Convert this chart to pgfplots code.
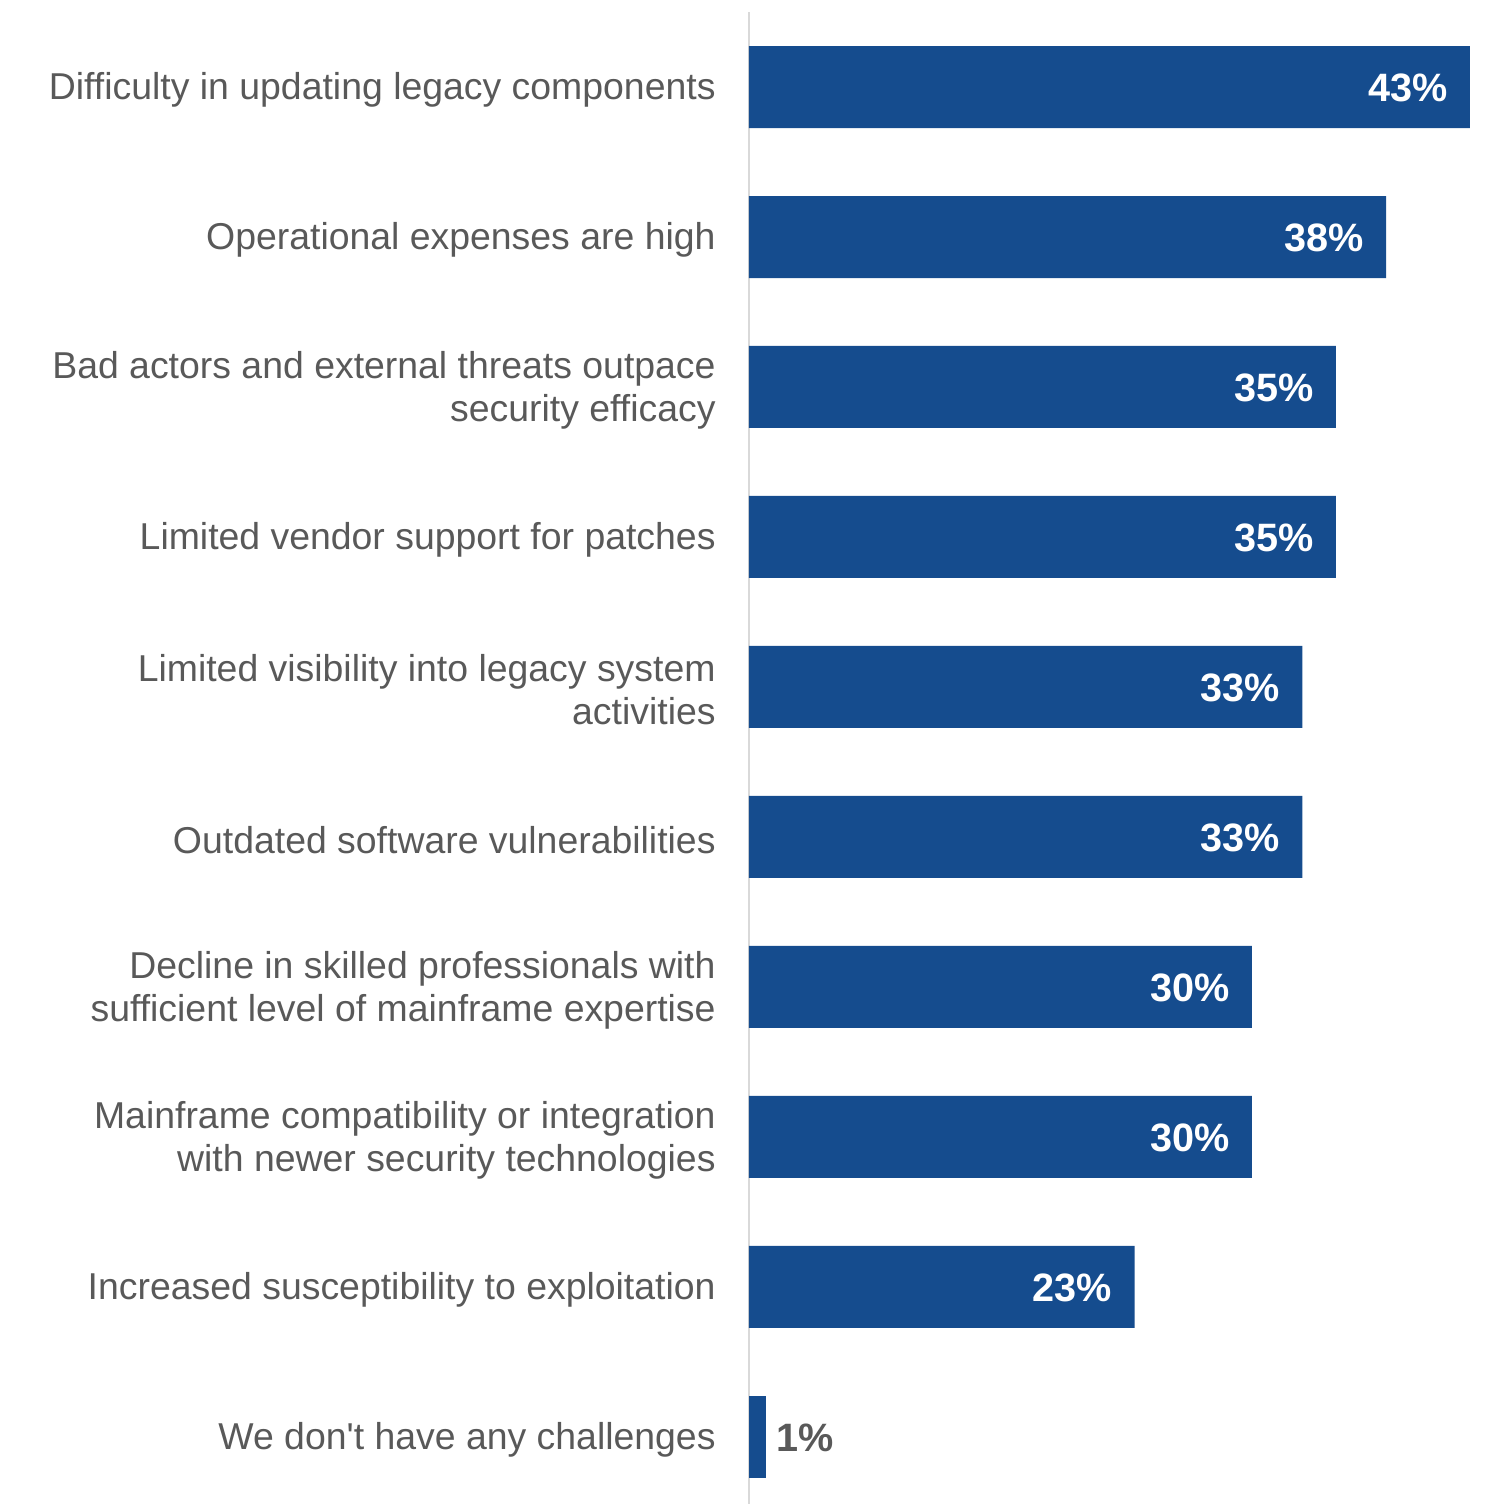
\documentclass[border=0pt]{standalone}
\usepackage{pgfplots}
\pgfplotsset{compat=1.18}
\usepackage{fontspec}
\setmainfont{Liberation Sans}
\definecolor{barblue}{RGB}{21,76,142}
\definecolor{labelgray}{RGB}{89,89,89}
\definecolor{axisgray}{RGB}{217,217,217}
\begin{document}
\begin{tikzpicture}
\begin{axis}[
  scale only axis,
  width=378.5pt, height=746pt,
  xmin=0, xmax=45.15,
  ymin=-0.5, ymax=9.447,
  y dir=reverse,
  axis x line=none,
  axis y line=left,
  y axis line style={-, draw=axisgray, line width=1pt},
  major tick length=0pt,
  ytick={0,...,9},
  yticklabels={
    {Difficulty in updating legacy components},
    {Operational expenses are high},
    {Bad actors and external threats outpace\\security efficacy},
    {Limited vendor support for patches},
    {Limited visibility into legacy system\\activities},
    {Outdated software vulnerabilities},
    {Decline in skilled professionals with\\sufficient level of mainframe expertise},
    {Mainframe compatibility or integration\\with newer security technologies},
    {Increased susceptibility to exploitation},
    {We don\textquotesingle t have any challenges}},
  yticklabel style={align=right, text=labelgray, inner sep=0pt, xshift=-16.5pt, yshift=-1.5pt,
    font=\fontsize{18.7}{21.5}\selectfont},
  clip=false,
]
\addplot[xbar, bar width=41pt, bar shift=0pt, fill=barblue, draw=none,
  point meta=x,
  nodes near coords={\pgfmathprintnumber[assume math mode=true]{\pgfplotspointmeta}\%},
  nodes near coords style={anchor=east, xshift=-11pt, yshift=-0.5pt, text=white, inner sep=0pt,
    font=\fontsize{19.8}{22}\selectfont\bfseries}]
  coordinates {(43,0) (38,1) (35,2) (35,3) (33,4) (33,5) (30,6) (30,7) (23,8)};
\addplot[xbar, bar width=41pt, bar shift=0pt, fill=barblue, draw=none,
  point meta=x,
  nodes near coords={\pgfmathprintnumber[assume math mode=true]{\pgfplotspointmeta}\%},
  nodes near coords style={anchor=west, xshift=5pt, yshift=-0.5pt, text=labelgray, inner sep=0pt,
    font=\fontsize{19.8}{22}\selectfont\bfseries}]
  coordinates {(1,9)};
\end{axis}
\pgfresetboundingbox
\path ([xshift=-374.5pt,yshift=6pt]current axis.north west) rectangle (current axis.south east);
\end{tikzpicture}
\end{document}
